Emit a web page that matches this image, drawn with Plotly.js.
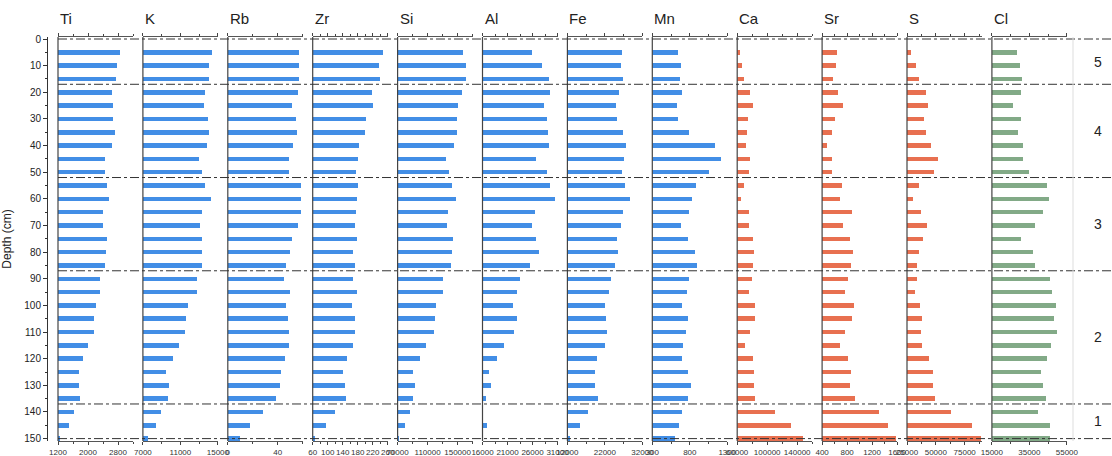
<!DOCTYPE html>
<html>
<head>
<meta charset="utf-8">
<script src="https://cdn.plot.ly/plotly-3.0.1.min.js"></script>
<style>html,body{margin:0;padding:0;background:#fff;}#chart{width:1112px;height:456px;}</style>
</head>
<body>
<div id="chart"></div>
<script>
// ---- data ----
const depths = [5,10,15,20,25,30,35,40,45,50,55,60,65,70,75,80,85,90,95,100,105,110,115,120,125,130,135,140,145,150];
const elements = ["Ti","K","Rb","Zr","Si","Al","Fe","Mn","Ca","Sr","S","Cl"];
const Ti = [2853,2782,2747,2631,2658,2658,2720,2631,2453,2453,2516,2551,2409,2409,2498,2480,2462,2320,2320,2204,2160,2160,1991,1876,1751,1769,1787,1627,1484,1262];
const K  = [14325,14076,14076,13649,13471,13898,14005,13827,12938,13258,13649,14218,13258,13080,13258,13258,13258,12724,12724,11765,11587,11516,10840,10200,9453,9809,9631,8920,8351,7498];
const Rb = [57.1,57.1,57.1,56.3,51.5,54.4,55.5,52.3,48.8,49.3,58.9,58.9,58.4,56.3,51.7,50.1,46.9,45.1,50.1,46.9,48.3,48.8,48.8,45.6,42.9,42.1,38.9,28.0,18.1,9.6];
const Zr = [247.6,236,239.6,219,220.9,203,198.7,182.7,180.9,176.4,180.9,179.1,176.4,172,178.2,166.7,173.8,167.6,178.2,164,172,172,166.7,151.6,140.9,145.3,148,120.4,95.6,67.1];
const Si = [157556,161556,161556,156222,150889,149556,149556,145111,134889,138444,142889,148222,137556,136222,143778,142889,140667,130444,130444,121556,120222,118444,108222,99778,90889,92667,90889,86000,80222,72222];
const Al = [25933,27800,29200,29467,28267,28933,29067,29200,26733,28933,29467,30400,26533,25867,26733,27333,25533,23533,22933,22133,22933,22333,20267,18933,17200,17733,16600,16133,16933,16100];
const Fe = [26578,26311,26844,25778,24978,25244,26844,27644,27111,26667,27289,28711,26756,26222,25244,25511,24711,23733,23200,22133,22311,22578,22133,19911,19289,19289,20267,17422,15378,12700];
const Mn = [642,682,669,691,629,642,784,1131,1216,1060,887,833,793,687,776,873,896,793,758,700,776,753,713,691,771,816,771,700,660,607];
const Ca = [63556,66222,68889,76444,81333,74222,72889,72000,77333,75556,69333,64889,75556,75556,81333,82222,81333,79111,76000,83111,83111,76889,70667,81333,82222,82222,83111,110667,132000,148000];
const Sr = [645,624,571,651,741,603,565,485,565,555,715,688,875,741,848,896,859,811,763,907,875,763,688,811,859,848,923,1317,1461,1579];
const S  = [28178,32800,35400,41467,42911,40022,41467,45800,51867,48111,35689,30200,37422,42044,38867,35400,33378,33378,31644,36000,38289,37422,38289,44067,47244,47244,49267,63422,81333,88844];
const Cl = [28511,30111,30822,30467,26022,30467,29044,31378,31378,34556,44511,45244,42378,37933,30467,36689,37933,45933,47178,49311,48244,49667,46467,44333,41133,42022,43644,39378,45778,45778];
const series = [Ti,K,Rb,Zr,Si,Al,Fe,Mn,Ca,Sr,S,Cl];

// axis ranges and tick labels
const axisRanges = [[1200,3200],[7000,15000],[0,60],[60,260],[70000,170000],[16000,31000],[12000,32000],[300,1300],[60000,160000],[400,1600],[25000,90000],[15000,55000]];
const axisTicks = [[1200,2000,2800],[7000,11000,15000],[0,40],[60,100,140,180,220,260],[70000,110000,150000],[16000,21000,26000,31000],[12000,22000,32000],[300,800,1300],[60000,100000,140000],[400,800,1200,1600],[25000,50000,75000],[15000,35000,55000]];
const minorSteps = [400,2000,20,20,20000,2500,5000,250,20000,200,12500,10000];
const zoneBounds = [0,17,52,87,137,150];
const zoneLabels = ["5","4","3","2","1"];

// ---- styles ----
const BLUE = "rgb(66,142,230)", RED = "rgb(232,112,80)", GREEN = "rgb(130,170,135)";
const colors = [BLUE,BLUE,BLUE,BLUE,BLUE,BLUE,BLUE,BLUE,RED,RED,RED,GREEN];
const FONT = "Arial, 'Liberation Sans', sans-serif";
const W = 1112, H = 456, ML = 47, MR = 0, MT = 37, MB = 15;
const PW = W - ML - MR;
const PH = H - MT - MB;
const panelStartPx = i => 58 + 84.9 * i;
const panelW = 75;
const toPaperX = px => (px - ML) / PW;

const traces = [];
const layout = {
  width: W, height: H,
  margin: {l: ML, r: MR, t: MT, b: MB},
  paper_bgcolor: "#fff", plot_bgcolor: "rgba(0,0,0,0)",
  showlegend: false,
  bargap: 0,
  font: {family: FONT, color: "#222"},
  yaxis: {
    range: [150.9, -0.75], anchor: "free", position: 0,
    showline: true, linecolor: "#333", linewidth: 1,
    ticks: "outside", ticklen: 4, tickcolor: "#333", dtick: 10, tick0: 0,
    minor: {ticks: "outside", ticklen: 2, dtick: 5, tick0: 0, tickcolor: "#333", showgrid: false},
    showgrid: false, zeroline: false,
    tickfont: {size: 10, color: "#222"},
    title: {text: "Depth (cm)", font: {size: 12, color: "#222"}, standoff: 10}
  },
  shapes: [], annotations: []
};

for (let i = 0; i < elements.length; i++) {
  const xname = i === 0 ? "x" : "x" + (i + 1);
  const axname = i === 0 ? "xaxis" : "xaxis" + (i + 1);
  const r = axisRanges[i];
  const d0 = toPaperX(panelStartPx(i));
  const d1 = toPaperX(panelStartPx(i) + panelW);
  const minorVals = [];
  for (let v = r[0]; v <= r[1] + 1e-9; v += minorSteps[i]) minorVals.push(v);
  layout[axname] = {
    domain: [d0, d1], anchor: "y", range: r,
    showline: true, linecolor: "#555", linewidth: 1, mirror: "ticks",
    ticks: "outside", ticklen: 3, tickcolor: "#444",
    tickmode: "array", tickvals: axisTicks[i], tickformat: "d", tickangle: 0,
    minor: {tickmode: "array", tickvals: minorVals, ticks: "outside", ticklen: 2, tickcolor: "#444", showgrid: false},
    showgrid: false, zeroline: false,
    ticklabelstandoff: 0,
    tickfont: {size: 8, color: "#333"}
  };
  traces.push({
    type: "bar", orientation: "h",
    x: series[i], y: depths, width: 1.7,
    xaxis: xname, yaxis: "y",
    marker: {color: colors[i], line: {width: 0}},
    hoverinfo: "x+y"
  });
  // panel left line
  layout.shapes.push({type: "line", xref: "paper", yref: "paper", x0: d0, x1: d0, y0: 0, y1: 1,
    line: {color: "#444", width: 1.2}});
  // element title
  layout.annotations.push({text: elements[i], xref: "paper", yref: "paper",
    x: d0, y: 1 + 18 / PH, xanchor: "left", yanchor: "middle", showarrow: false,
    font: {size: 15, color: "#222", family: FONT}});
}

// zone boundaries (dash-dot)
zoneBounds.forEach(b => {
  layout.shapes.push({type: "line", xref: "paper", yref: "y", x0: toPaperX(58), x1: 1, y0: b, y1: b,
    line: {color: "#333", width: 1, dash: "dashdot"}});
});
// right light separator
layout.shapes.push({type: "line", xref: "paper", yref: "paper", x0: toPaperX(1073), x1: toPaperX(1073), y0: 0, y1: 1,
  line: {color: "#ddd", width: 1}});
// zone labels
for (let z = 0; z < zoneLabels.length; z++) {
  layout.annotations.push({text: zoneLabels[z], xref: "paper", yref: "y",
    x: toPaperX(1098), y: (zoneBounds[z] + zoneBounds[z + 1]) / 2, xanchor: "center", yanchor: "middle",
    showarrow: false, font: {size: 14, color: "#222", family: FONT}});
}

Plotly.newPlot("chart", traces, layout, {staticPlot: true, displayModeBar: false});
</script>
</body>
</html>
